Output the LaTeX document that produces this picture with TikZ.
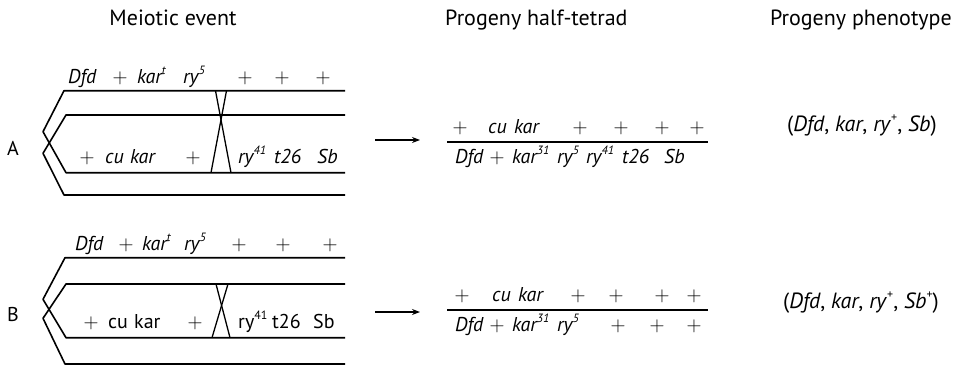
\documentclass[tikz,border=0pt]{standalone}
\usepackage{fontspec}
\setmainfont{PT Sans}
\usetikzlibrary{arrows.meta}
\newcommand\gf{\fontsize{20}{24}\selectfont}
\newcommand\hf{\fontsize{22}{26}\selectfont}
\newcommand\pf{\fontsize{22}{26}\selectfont}
\newcommand\sps[1]{\raisebox{0.45em}{\fontsize{12}{12}\selectfont #1}}
\begin{document}
\begin{tikzpicture}[x=1pt,y=-1pt,
  chrom/.style={line width=1.6pt, line join=round},
  xover/.style={line width=1.3pt},
  fracline/.style={line width=1.6pt},
  arr/.style={line width=1.2pt, -{Stealth[length=8pt,width=6pt]}},
  tok/.style={inner sep=0pt, anchor=base west, font=\gf},
  pl/.style={inner sep=0pt, anchor=base, font=\gf},
  hdr/.style={inner sep=0pt, anchor=base, font=\hf},
  phen/.style={inner sep=0pt, anchor=base west, font=\pf},
  lab/.style={inner sep=0pt, font=\gf}]
\useasboundingbox (0,0) rectangle (970,367);
% headers
\node[hdr] (h1) at (173,25) {Meiotic event};
\node[hdr, anchor=base west] (h2) at (445,25) {Progeny half-tetrad};
\node[hdr, anchor=base east] (h3) at (952,25) {Progeny phenotype};
% labels
\node[lab] (labA) at (13,148) {A};
\node[lab] (labB) at (13,314) {B};
% chromatids A
\draw[chrom] (345,90.7) -- (64,90.7) -- (43,131.7) -- (66,172.7) -- (345,172.7);
\draw[chrom] (345,115) -- (66,115) -- (43,153.3) -- (64,195) -- (345,195);
\draw[xover] (215.5,90.7) -- (231,172.7);
\draw[xover] (226.5,90.7) -- (211,172.7);
% chromatids B
\draw[chrom] (345,257.7) -- (65,257.7) -- (43,299.3) -- (66,337.7) -- (345,337.7);
\draw[chrom] (345,284) -- (66,284) -- (43,318.3) -- (65,364) -- (345,364);
\draw[xover] (216,284) -- (230,337.7);
\draw[xover] (228,284) -- (212,337.7);
% A top
\node[tok] (at1) at (68,83) {\itshape Dfd};
\node[tok] (at2) at (137,83) {\itshape kar\sps{t}};
\node[tok] (at3) at (183,83) {\itshape ry\sps{5}};
\foreach \x [count=\i] in {120,245,282,323} \node[pl] (atp\i) at (\x,83) {$+$};
% A lower
\node[tok] (al1) at (105,163) {\itshape cu};
\node[tok] (al2) at (130,163) {\itshape kar};
\node[tok] (al3) at (238,163) {\itshape ry\sps{41}};
\node[tok] (al4) at (274,163) {\itshape t26};
\node[tok] (al5) at (317,163) {\itshape Sb};
\foreach \x [count=\i] in {87,193} \node[pl] (alp\i) at (\x,163) {$+$};
% B top
\node[tok] (bt1) at (75,250) {\itshape Dfd};
\node[tok] (bt2) at (142,250) {\itshape kar\sps{t}};
\node[tok] (bt3) at (184,250) {\itshape ry\sps{5}};
\foreach \x [count=\i] in {126,239,283,330} \node[pl] (btp\i) at (\x,250) {$+$};
% B lower
\node[tok] (bl1) at (108,328) {cu};
\node[tok] (bl2) at (134,328) {kar};
\node[tok] (bl3) at (238,328) {ry\sps{41}};
\node[tok] (bl4) at (272,328) {t26};
\node[tok] (bl5) at (313,328) {Sb};
\foreach \x [count=\i] in {91,195} \node[pl] (blp\i) at (\x,328) {$+$};
% arrows
\coordinate (arA0) at (375,140);
\coordinate (arA1) at (420,140);
\coordinate (arB0) at (375,312);
\coordinate (arB1) at (420,312);
\draw[arr] (arA0) -- (arA1);
\draw[arr] (arB0) -- (arB1);
% half-tetrad A
\coordinate (fA0) at (447,141.7);
\coordinate (fA1) at (708,141.7);
\draw[fracline] (fA0) -- (fA1);
\node[tok] (ha1) at (488,133) {\itshape cu};
\node[tok] (ha2) at (514,133) {\itshape kar};
\foreach \x [count=\i] in {460,580,621,662,697} \node[pl] (hap\i) at (\x,133) {$+$};
\node[tok] (hb1) at (455,163) {\itshape Dfd};
\node[tok] (hb2) at (512,163) {\itshape kar\sps{31}};
\node[tok] (hb3) at (557,163) {\itshape ry\sps{5}};
\node[tok] (hb4) at (586,163) {\itshape ry\sps{41}};
\node[tok] (hb5) at (622,163) {\itshape t26};
\node[tok] (hb6) at (664,163) {\itshape Sb};
\node[pl] (hbp1) at (497,163) {$+$};
% half-tetrad B
\coordinate (fB0) at (447,310);
\coordinate (fB1) at (708,310);
\draw[fracline] (fB0) -- (fB1);
\node[tok] (hc1) at (492,301) {\itshape cu};
\node[tok] (hc2) at (518,301) {\itshape kar};
\foreach \x [count=\i] in {462,578,616,662,694} \node[pl] (hcp\i) at (\x,301) {$+$};
\node[tok] (hd1) at (455,331) {\itshape Dfd};
\node[tok] (hd2) at (512,331) {\itshape kar\sps{31}};
\node[tok] (hd3) at (557,331) {\itshape ry\sps{5}};
\foreach \x [count=\i] in {497,618,657,694} \node[pl] (hdp\i) at (\x,331) {$+$};
% phenotypes
\node[phen] (phA) at (787,131) {(\textit{Dfd}, \textit{kar}, \textit{ry}\sps{+}, \textit{Sb})};
\node[phen] (phB) at (783,308) {(\textit{Dfd}, \textit{kar}, \textit{ry}\sps{+}, \textit{Sb}\sps{+})};
\end{tikzpicture}
\end{document}
